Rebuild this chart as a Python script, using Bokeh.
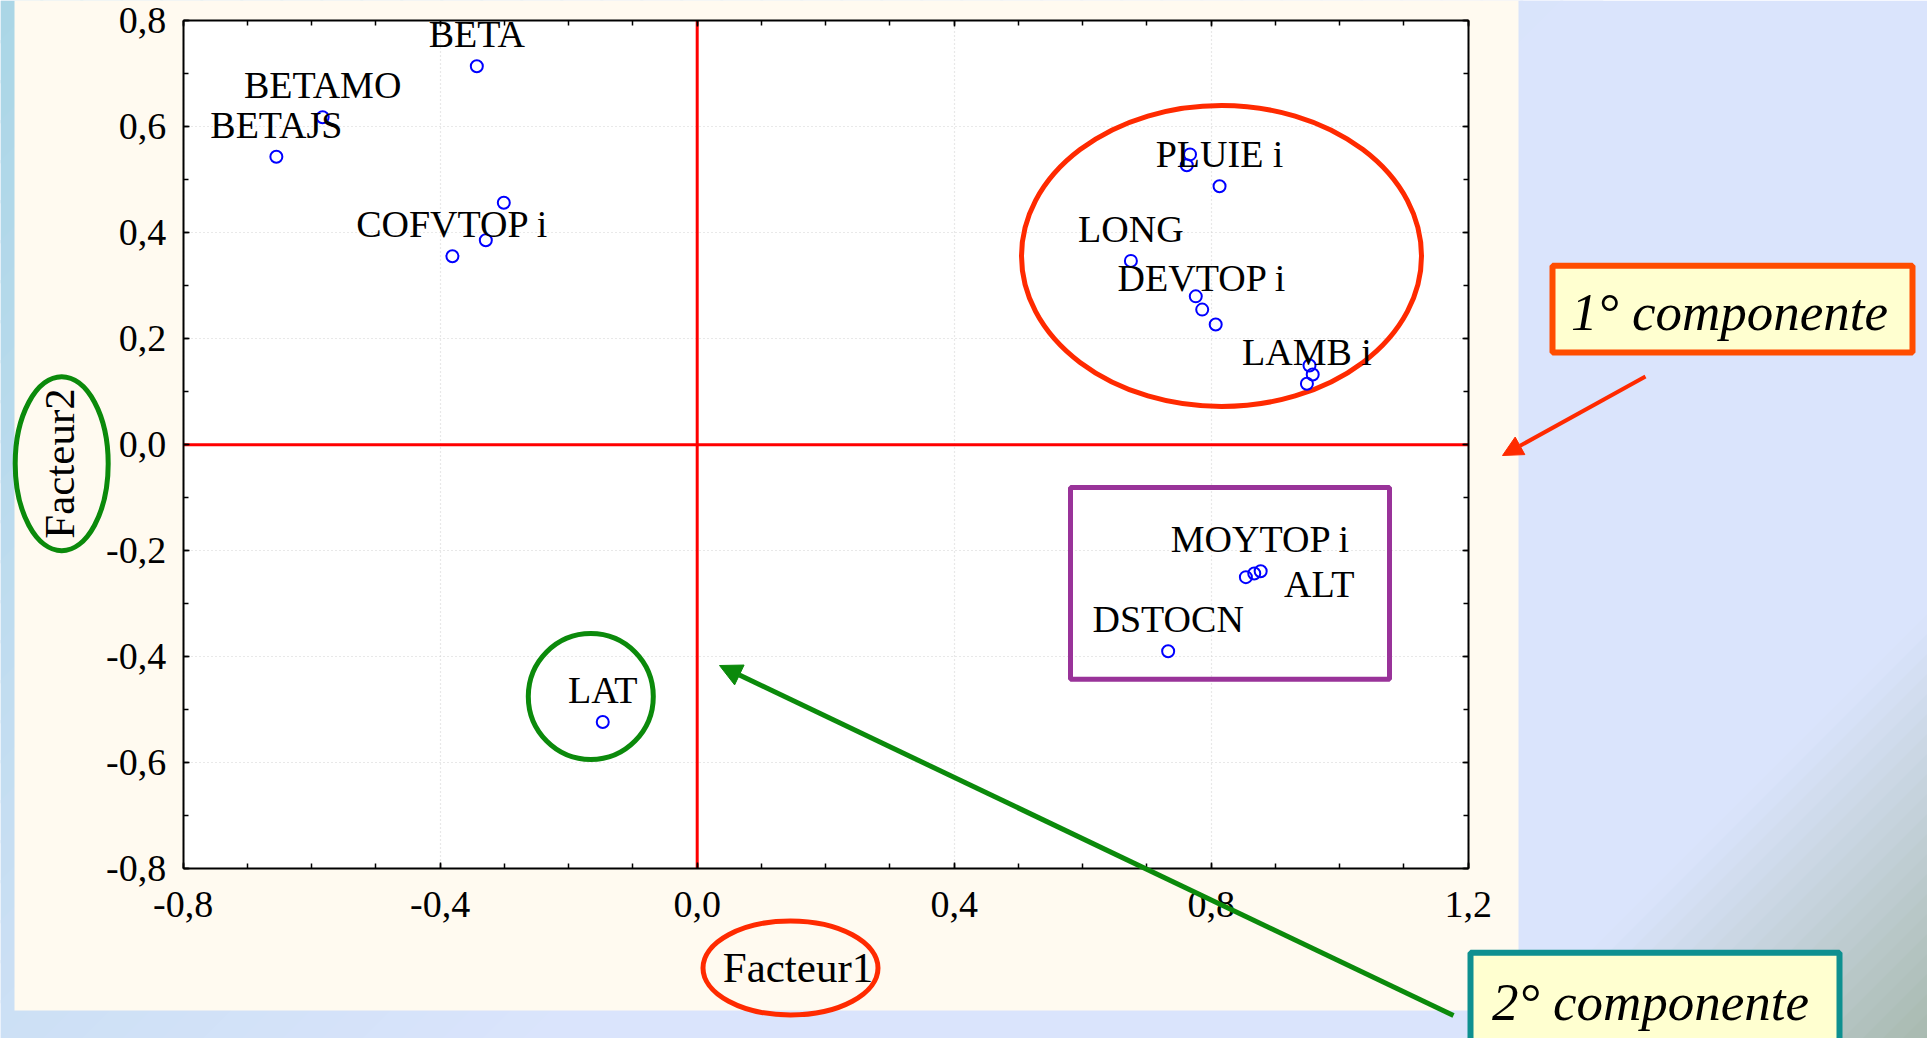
import numpy as np
from bokeh.plotting import figure
from bokeh.models import (Range1d, FixedTicker, LinearAxis, Arrow, NormalHead,
                          ColumnDataSource, Grid)
from bokeh.core.properties import value
from bokeh.embed import file_html
from bokeh.resources import INLINE

# ---------------- data ----------------
facteur1 = [-0.343, -0.583, -0.655, -0.301, -0.329, -0.381,
            0.767, 0.762, 0.813, 0.675, 0.776, 0.786, 0.807,
            0.953, 0.958, 0.949, 0.854, 0.867, 0.877, 0.733, -0.147]
facteur2 = [0.7145, 0.618, 0.5435, 0.4566, 0.386, 0.3558,
            0.548, 0.5276, 0.488, 0.347, 0.280, 0.255, 0.227,
            0.1495, 0.1325, 0.115, -0.250, -0.243, -0.239, -0.390, -0.5235]
label_names = ["BETA", "BETAMO", "BETAJS", "COFVTOP i", "PLUIE i", "LONG",
               "DEVTOP i", "LAMB i", "MOYTOP i", "ALT", "DSTOCN", "LAT"]
label_point = [0, 1, 2, 5, 8, 9, 11, 15, 18, 17, 19, 20]

x_ticks = [-0.8, -0.4, 0.0, 0.4, 0.8, 1.2]
x_tick_labels = ["-0,8", "-0,4", "0,0", "0,4", "0,8", "1,2"]
x_minor = [-0.8, -0.7, -0.6, -0.5, -0.4, -0.3, -0.2, -0.1, 0.0, 0.1, 0.2, 0.3,
           0.4, 0.5, 0.6, 0.7, 0.8, 0.9, 1.0, 1.1, 1.2]
y_ticks = [-0.8, -0.6, -0.4, -0.2, 0.0, 0.2, 0.4, 0.6, 0.8]
y_tick_labels = ["-0,8", "-0,6", "-0,4", "-0,2", "0,0", "0,2", "0,4", "0,6", "0,8"]
y_minor = [-0.8, -0.7, -0.6, -0.5, -0.4, -0.3, -0.2, -0.1, 0.0, 0.1, 0.2, 0.3,
           0.4, 0.5, 0.6, 0.7, 0.8]
x_bounds = (-0.8, 1.2)
y_bounds = (-0.8, 0.8)
x_title = "Facteur1"
y_title = "Facteur2"
note1 = "1° componente"
note2 = "2° componente"

# ---------------- layout (page pixels) ----------------
MARGIN = 0
CW, CH = 1927, 1038
WP, HP = 1927, 1038
X0, SX = 696.7, 642.5
Y0, SY = 444.2, 529.75


def px(X):
    return (X - X0) / SX


def py(Y):
    return (Y0 - Y) / SY


label_dx = [0, 0, 0, 0, 0, 0, 0, 0, 0, 65, 0, 0]
label_dy = [-32, -32, -32, -32, -32, -32, -32, -32, -32, 11, -32, -32]

SERIF = "Liberation Serif"

p = figure(width=CW, height=CH,
           x_range=Range1d(px(MARGIN), px(MARGIN + CW)),
           y_range=Range1d(py(MARGIN + CH), py(MARGIN)),
           output_backend="svg", toolbar_location=None, title=None,
           min_border=0, outline_line_color=None,
           background_fill_color="white", border_fill_color="white")

# ---------------- background ----------------
stops = [(0, (170, 214, 230)), (1040, (205, 224, 245)), (1600, (218, 228, 252)),
         (2540, (218, 228, 252)), (2965, (168, 186, 175))]


def col(s):
    for (s0, c0), (s1, c1) in zip(stops[:-1], stops[1:]):
        if s0 <= s <= s1:
            t = (s - s0) / (s1 - s0)
            c = [int(round(a + t * (b - a))) for a, b in zip(c0, c1)]
            return "#%02x%02x%02x" % tuple(c)
    return "#%02x%02x%02x" % stops[-1][1]


def clip(poly, a, b, c):
    out = []
    n = len(poly)
    for i in range(n):
        P = poly[i]
        Q = poly[(i + 1) % n]
        fp = a * P[0] + b * P[1] - c
        fq = a * Q[0] + b * Q[1] - c
        if fp <= 0:
            out.append(P)
        if (fp < 0 < fq) or (fq < 0 < fp):
            t = fp / (fp - fq)
            out.append((P[0] + t * (Q[0] - P[0]), P[1] + t * (Q[1] - P[1])))
    return out


rect = [(0, 0), (WP, 0), (WP, HP), (0, HP)]
bxs, bys, bcs = [], [], []
bxs.append([px(0), px(WP), px(WP), px(0)])
bys.append([py(0), py(0), py(HP), py(HP)])
bcs.append(col(2000))
bands = [(s, s + 40) for s in range(0, 1600, 40)] + [(s, s + 20) for s in range(2540, 2965, 20)]
for s1, s2 in bands:
    poly = clip(clip(rect, 1, 1, s2 + 3), -1, -1, -s1)
    if len(poly) >= 3:
        bxs.append([px(a) for a, b in poly])
        bys.append([py(b) for a, b in poly])
        bcs.append(col((s1 + s2) / 2))
p.patches(bxs, bys, fill_color=bcs, line_color=None, level="image")

# cream panel
p.quad(left=[px(14)], right=[px(1518)], top=[py(-20)], bottom=[py(1010)],
       fill_color="#fffaf0", line_color=None, level="image")
# white plot area
p.quad(left=[x_bounds[0]], right=[x_bounds[1]], top=[y_bounds[1]], bottom=[y_bounds[0]],
       fill_color="white", line_color=None, level="image")

# ---------------- axes ----------------
def style_axis(ax, ticks, minors, labels, bounds, loc, show):
    ax.ticker = FixedTicker(ticks=ticks, minor_ticks=minors)
    ax.bounds = bounds
    ax.fixed_location = loc
    ax.axis_line_color = "black"
    ax.axis_line_width = 2
    ax.major_tick_in = 6
    ax.major_tick_out = 0
    ax.minor_tick_in = 5
    ax.minor_tick_out = 0
    ax.major_tick_line_color = "black"
    ax.major_tick_line_width = 1.5
    ax.minor_tick_line_color = "black"
    ax.minor_tick_line_width = 1.5
    ax.major_label_overrides = dict(zip(ticks, labels))
    ax.major_label_text_font = SERIF
    ax.major_label_text_font_size = "38px"
    ax.major_label_text_color = "black" if show else None


xa = p.xaxis[0]
style_axis(xa, x_ticks, x_minor, x_tick_labels, x_bounds, y_bounds[0], True)
xa.major_label_standoff = 23
ya = p.yaxis[0]
style_axis(ya, y_ticks, y_minor, y_tick_labels, y_bounds, x_bounds[0], True)
ya.major_label_standoff = 17

top_ax = LinearAxis()
style_axis(top_ax, x_ticks, x_minor, x_tick_labels, x_bounds, y_bounds[1], False)
p.add_layout(top_ax, "above")
right_ax = LinearAxis()
style_axis(right_ax, y_ticks, y_minor, y_tick_labels, y_bounds, x_bounds[1], False)
p.add_layout(right_ax, "right")

# axis titles (label-only axes, to centre titles as in the original)
xl = LinearAxis(ticker=FixedTicker(ticks=[]), axis_label=x_title,
                fixed_location=y_bounds[0], bounds=(x_bounds[0], px(797.3) * 2 - x_bounds[0]),
                axis_line_color=None, major_tick_line_color=None, minor_tick_line_color=None,
                axis_label_standoff=75, axis_label_text_font=SERIF,
                axis_label_text_font_size="43px", axis_label_text_font_style="normal",
                axis_label_text_color="black")
p.add_layout(xl, "below")
yl = LinearAxis(ticker=FixedTicker(ticks=[]), axis_label=y_title,
                fixed_location=x_bounds[0], bounds=(y_bounds[0], py(463.2) * 2 - y_bounds[0]),
                axis_line_color=None, major_tick_line_color=None, minor_tick_line_color=None,
                axis_label_standoff=101, axis_label_text_font=SERIF,
                axis_label_text_font_size="43px", axis_label_text_font_style="normal",
                axis_label_text_color="black")
p.add_layout(yl, "left")

# grid
for g, cb in ((p.xgrid[0], y_bounds), (p.ygrid[0], x_bounds)):
    g.grid_line_color = "#d2d2d2"
    g.grid_line_dash = "1 3"
    g.grid_line_width = 1.2
    if "cross_bounds" in g.properties():
        g.cross_bounds = cb
p.xgrid[0].bounds = x_bounds
p.ygrid[0].bounds = y_bounds

# red reference cross
p.segment(x0=[0, x_bounds[0]], y0=[y_bounds[0], 0], x1=[0, x_bounds[1]], y1=[y_bounds[1], 0],
          line_color="#ff0000", line_width=3)

# ---------------- highlight shapes ----------------
p.ellipse(x=[px(1221), px(590.3), px(61.2), px(790)],
          y=[py(255.5), py(696), py(463.2), py(967.5)],
          width=[400, 125, 93, 175], height=[301, 126, 174, 94],
          width_units="screen", height_units="screen",
          fill_color=None, line_color=["#ff2a00", "#0b8a0b", "#0b8a0b", "#ff2a00"],
          line_width=5)
p.quad(left=[px(1070)], right=[px(1389)], top=[py(487)], bottom=[py(678.8)],
       fill_color=None, line_color="#993399", line_width=5)

# points
p.scatter(x=facteur1, y=facteur2, marker="circle", size=12, fill_color=None,
          line_color="#0000ff", line_width=2)

# point labels
lab_src = ColumnDataSource(dict(
    x=[facteur1[i] for i in label_point],
    y=[facteur2[i] for i in label_point],
    text=label_names, dx=label_dx, dy=label_dy))
p.text(x="x", y="y", text="text", x_offset="dx", y_offset="dy", source=lab_src,
       text_align="center", text_baseline="alphabetic",
       text_font=value(SERIF), text_font_size="38px", text_color="black")

# ---------------- note boxes ----------------
p.quad(left=[px(1552), px(1470)], right=[px(1912), px(1839)],
       top=[py(265.3), py(952.3)], bottom=[py(352), py(1070)],
       fill_color="#ffffd0", line_color=["#ff4d00", "#0e9090"], line_width=6)
p.text(x=[px(1729), px(1650)], y=[py(311), py(1001)], text=[note1, note2],
       text_align="center", text_baseline="alphabetic",
       text_font=value(SERIF), text_font_style="italic", text_font_size="53px",
       text_color="black")

# arrows
p.add_layout(Arrow(end=NormalHead(size=20, fill_color="#ff2a00", line_color="#ff2a00"),
                   x_start=px(1645), y_start=py(376), x_end=px(1502), y_end=py(455),
                   line_color="#ff2a00", line_width=4))
p.add_layout(Arrow(end=NormalHead(size=22, fill_color="#0b8a0b", line_color="#0b8a0b"),
                   x_start=px(1453), y_start=py(1015), x_end=px(719), y_end=py(665),
                   line_color="#0b8a0b", line_width=5))

open("out.html", "w").write(file_html(p, INLINE))
